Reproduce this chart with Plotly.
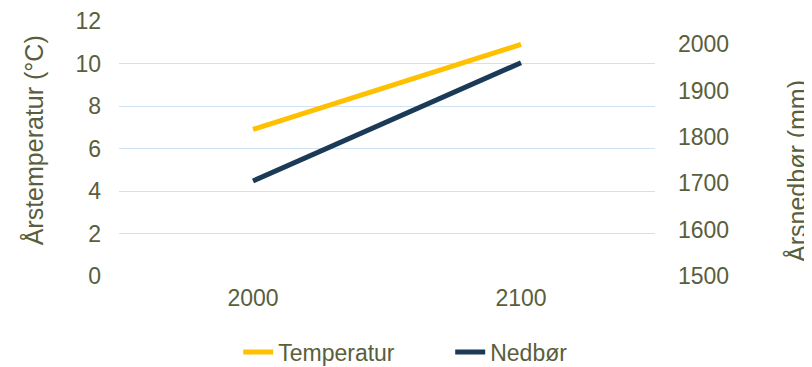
import plotly.graph_objects as go

years = ["2000", "2100"]
temperatur = [6.9, 10.9]
nedbor = [1705, 1960]
left_ticks = [0, 2, 4, 6, 8, 10, 12]
right_ticks = [1500, 1600, 1700, 1800, 1900, 2000]

txt = "#595E3C"
font = "Liberation Sans, Arial, sans-serif"
fs = 23

fig = go.Figure()
fig.add_trace(go.Scatter(x=years, y=temperatur, name="Temperatur", mode="lines",
                         line=dict(color="#FFC000", width=5)))
fig.add_trace(go.Scatter(x=years, y=nedbor, name="Nedbør", mode="lines", yaxis="y2",
                         line=dict(color="#1A3A57", width=5)))

fig.update_layout(
    width=804, height=359,
    margin=dict(l=111, r=157, t=13, b=91, autoexpand=False),
    paper_bgcolor="white", plot_bgcolor="white",
    font=dict(family=font, size=fs, color=txt),
    xaxis=dict(type="category", range=[-0.5, 1.5], showgrid=False, zeroline=False,
               showline=False, ticks="", automargin=False,
               tickfont=dict(size=fs, color=txt), ticklabelstandoff=6),
    yaxis=dict(range=[0, 12], tickvals=left_ticks, showgrid=True, gridcolor="#CFE1F2",
               gridwidth=1, zeroline=False, showline=False, ticks="", automargin=False,
               tickfont=dict(size=fs, color=txt), ticklabelstandoff=17),
    yaxis2=dict(range=[1500, 2050], tickvals=right_ticks, overlaying="y", side="right",
                showgrid=False, zeroline=False, showline=False, ticks="", automargin=False,
                tickfont=dict(size=fs, color=txt), ticklabelstandoff=22),
    legend=dict(orientation="h", x=0.2224, xanchor="left", y=-0.298, yanchor="middle",
                font=dict(size=fs, color=txt), traceorder="normal",
                entrywidth=167, entrywidthmode="pixels"),
    showlegend=True,
)

fig.add_annotation(text="Årstemperatur (°C)", textangle=-90, xref="paper", yref="paper",
                   x=-0.160, y=0.533, xanchor="center", yanchor="middle", showarrow=False,
                   font=dict(size=25, color=txt))
fig.add_annotation(text="Årsnedbør (mm)", textangle=-90, xref="paper", yref="paper",
                   x=1.265, y=0.412, xanchor="center", yanchor="middle", showarrow=False,
                   font=dict(size=25, color=txt))

fig.write_html("out.html")
